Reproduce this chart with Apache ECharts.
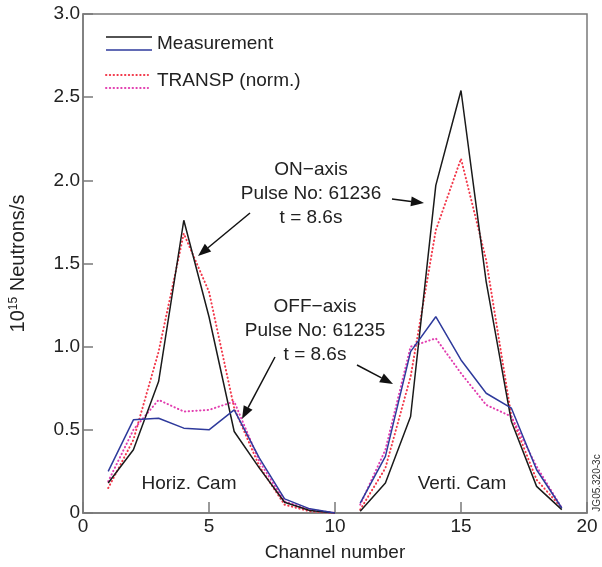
<!DOCTYPE html>
<html>
<head>
<meta charset="utf-8">
<script src="https://cdn.jsdelivr.net/npm/echarts@6/dist/echarts.min.js"></script>
<style>
  html, body { margin: 0; padding: 0; background: #fff; }
  #chart { width: 602px; height: 567px; }
</style>
</head>
<body>
<div id="chart"></div>
<script>
// channels of the two cameras
var horizChannels = [1, 2, 3, 4, 5, 6, 7, 8, 9, 10];
var vertiChannels = [11, 12, 13, 14, 15, 16, 17, 18, 19];

// measured neutron emission (10^15 n/s)
var measOnH  = [0.18, 0.38, 0.79, 1.76, 1.18, 0.49, 0.27, 0.065, 0.015, 0.0];
var measOffH = [0.25, 0.56, 0.57, 0.51, 0.50, 0.62, 0.33, 0.085, 0.025, 0.0];
var measOnV  = [0.01, 0.18, 0.58, 1.97, 2.54, 1.39, 0.55, 0.16, 0.02];
var measOffV = [0.06, 0.34, 0.97, 1.18, 0.92, 0.72, 0.63, 0.26, 0.03];

// TRANSP (normalised)
var transpOnH  = [0.15, 0.44, 0.97, 1.68, 1.33, 0.63, 0.28, 0.05, 0.01, 0.0];
var transpOffH = [0.19, 0.50, 0.68, 0.61, 0.62, 0.67, 0.31, 0.07, 0.02, 0.0];
var transpOnV  = [0.02, 0.27, 0.82, 1.70, 2.13, 1.52, 0.58, 0.20, 0.03];
var transpOffV = [0.05, 0.38, 1.00, 1.05, 0.84, 0.65, 0.58, 0.28, 0.03];

var xTicks = [0, 5, 10, 15, 20];
var yTicks = [0, 0.5, 1.0, 1.5, 2.0, 2.5, 3.0];

var FONT = 'Liberation Sans, Arial, sans-serif';
var AXIS_GREY = '#7a7a7a';
var BLACK = '#1a1a1a', BLUE = '#2e3a9c', RED = '#f2384a', MAGENTA = '#e23fb0';
var DOTS = [0.4, 3.4];

function pairs(xs, ys) {
    return xs.map(function (x, i) { return [x, ys[i]]; });
}

function lineSeries(xs, ys, color, dotted) {
    return {
        type: 'line',
        data: pairs(xs, ys),
        showSymbol: false,
        symbol: 'none',
        lineStyle: dotted
            ? {color: color, width: 2, type: DOTS, cap: 'round'}
            : {color: color, width: 1.5},
        z: dotted ? 3 : 4
    };
}

function arrow(x1, y1, x2, y2) {
    var ang = Math.atan2(y2 - y1, x2 - x1);
    var len = 13, half = 5;
    var bx = x2 - len * Math.cos(ang), by = y2 - len * Math.sin(ang);
    var px = -Math.sin(ang) * half, py = Math.cos(ang) * half;
    return [
        {type: 'line', shape: {x1: x1, y1: y1, x2: bx, y2: by},
         style: {stroke: '#111', lineWidth: 1.5}},
        {type: 'polygon', shape: {points: [[x2, y2], [bx + px, by + py], [bx - px, by - py]]},
         style: {fill: '#111'}}
    ];
}

function label(text, x, y, size) {
    return {type: 'text', x: x, y: y,
        style: {text: text, font: (size || 19) + 'px ' + FONT, fill: '#222',
                textAlign: 'center', textVerticalAlign: 'middle', lineHeight: 24}};
}

var chart = echarts.init(document.getElementById('chart'));

var graphics = [
    // legend
    {type: 'line', shape: {x1: 106, y1: 37, x2: 152, y2: 37}, style: {stroke: BLACK, lineWidth: 1.5}},
    {type: 'line', shape: {x1: 106, y1: 50, x2: 152, y2: 50}, style: {stroke: BLUE, lineWidth: 1.5}},
    {type: 'line', shape: {x1: 106, y1: 75, x2: 148, y2: 75}, style: {stroke: RED, lineWidth: 2, lineDash: DOTS, lineCap: 'round'}},
    {type: 'line', shape: {x1: 106, y1: 88, x2: 148, y2: 88}, style: {stroke: MAGENTA, lineWidth: 2, lineDash: DOTS, lineCap: 'round'}},
    {type: 'text', x: 157, y: 44, style: {text: 'Measurement', font: '19px ' + FONT, fill: '#222', textVerticalAlign: 'middle'}},
    {type: 'text', x: 157, y: 81, style: {text: 'TRANSP (norm.)', font: '19px ' + FONT, fill: '#222', textVerticalAlign: 'middle'}},
    // annotations
    label('ON\u2212axis\nPulse No: 61236\nt = 8.6s', 311, 194),
    label('OFF\u2212axis\nPulse No: 61235\nt = 8.6s', 315, 331),
    label('Horiz. Cam', 189, 484),
    label('Verti. Cam', 462, 484),
    {type: 'text', x: 597, y: 483, rotation: Math.PI / 2,
     style: {text: 'JG05.320-3c', font: '10px ' + FONT, fill: '#333',
             textAlign: 'center', textVerticalAlign: 'middle'}}
];
graphics = graphics
    .concat(arrow(250, 213, 198, 256))
    .concat(arrow(392, 199, 424, 203))
    .concat(arrow(275, 357, 242, 419))
    .concat(arrow(357, 365, 393, 384));

var option = {
    animation: false,
    grid: {left: 80, top: 14, right: 15, bottom: 53, show: true,
           borderColor: AXIS_GREY, borderWidth: 1.5},
    xAxis: {
        type: 'value', min: xTicks[0], max: xTicks[xTicks.length - 1], interval: 5,
        name: 'Channel number', nameLocation: 'middle', nameGap: 30,
        nameTextStyle: {fontFamily: FONT, fontSize: 19, color: '#222'},
        axisLine: {lineStyle: {color: AXIS_GREY, width: 1.5}},
        axisTick: {inside: true, length: 11, lineStyle: {color: AXIS_GREY, width: 1.5}},
        axisLabel: {fontFamily: FONT, fontSize: 19, color: '#222', margin: 4},
        splitLine: {show: false}
    },
    yAxis: {
        type: 'value', min: yTicks[0], max: yTicks[yTicks.length - 1], interval: 0.5,
        name: '10{sup|15} Neutrons/s', nameLocation: 'middle', nameGap: 54, nameRotate: 90,
        nameTextStyle: {fontFamily: FONT, fontSize: 20, color: '#222',
            rich: {sup: {fontFamily: FONT, fontSize: 12, color: '#222', padding: [0, 0, 9, 0]}}},
        axisLine: {lineStyle: {color: AXIS_GREY, width: 1.5}},
        axisTick: {inside: true, length: 10, lineStyle: {color: AXIS_GREY, width: 1.5}},
        axisLabel: {fontFamily: FONT, fontSize: 19, color: '#222', margin: 3,
            formatter: function (v) { return v === 0 ? '0' : v.toFixed(1); }},
        splitLine: {show: false}
    },
    series: [
        lineSeries(horizChannels, transpOnH, RED, true),
        lineSeries(horizChannels, transpOffH, MAGENTA, true),
        lineSeries(vertiChannels, transpOnV, RED, true),
        lineSeries(vertiChannels, transpOffV, MAGENTA, true),
        lineSeries(horizChannels, measOnH, BLACK, false),
        lineSeries(horizChannels, measOffH, BLUE, false),
        lineSeries(vertiChannels, measOnV, BLACK, false),
        lineSeries(vertiChannels, measOffV, BLUE, false)
    ],
    graphic: graphics
};

chart.setOption(option);
</script>
</body>
</html>
